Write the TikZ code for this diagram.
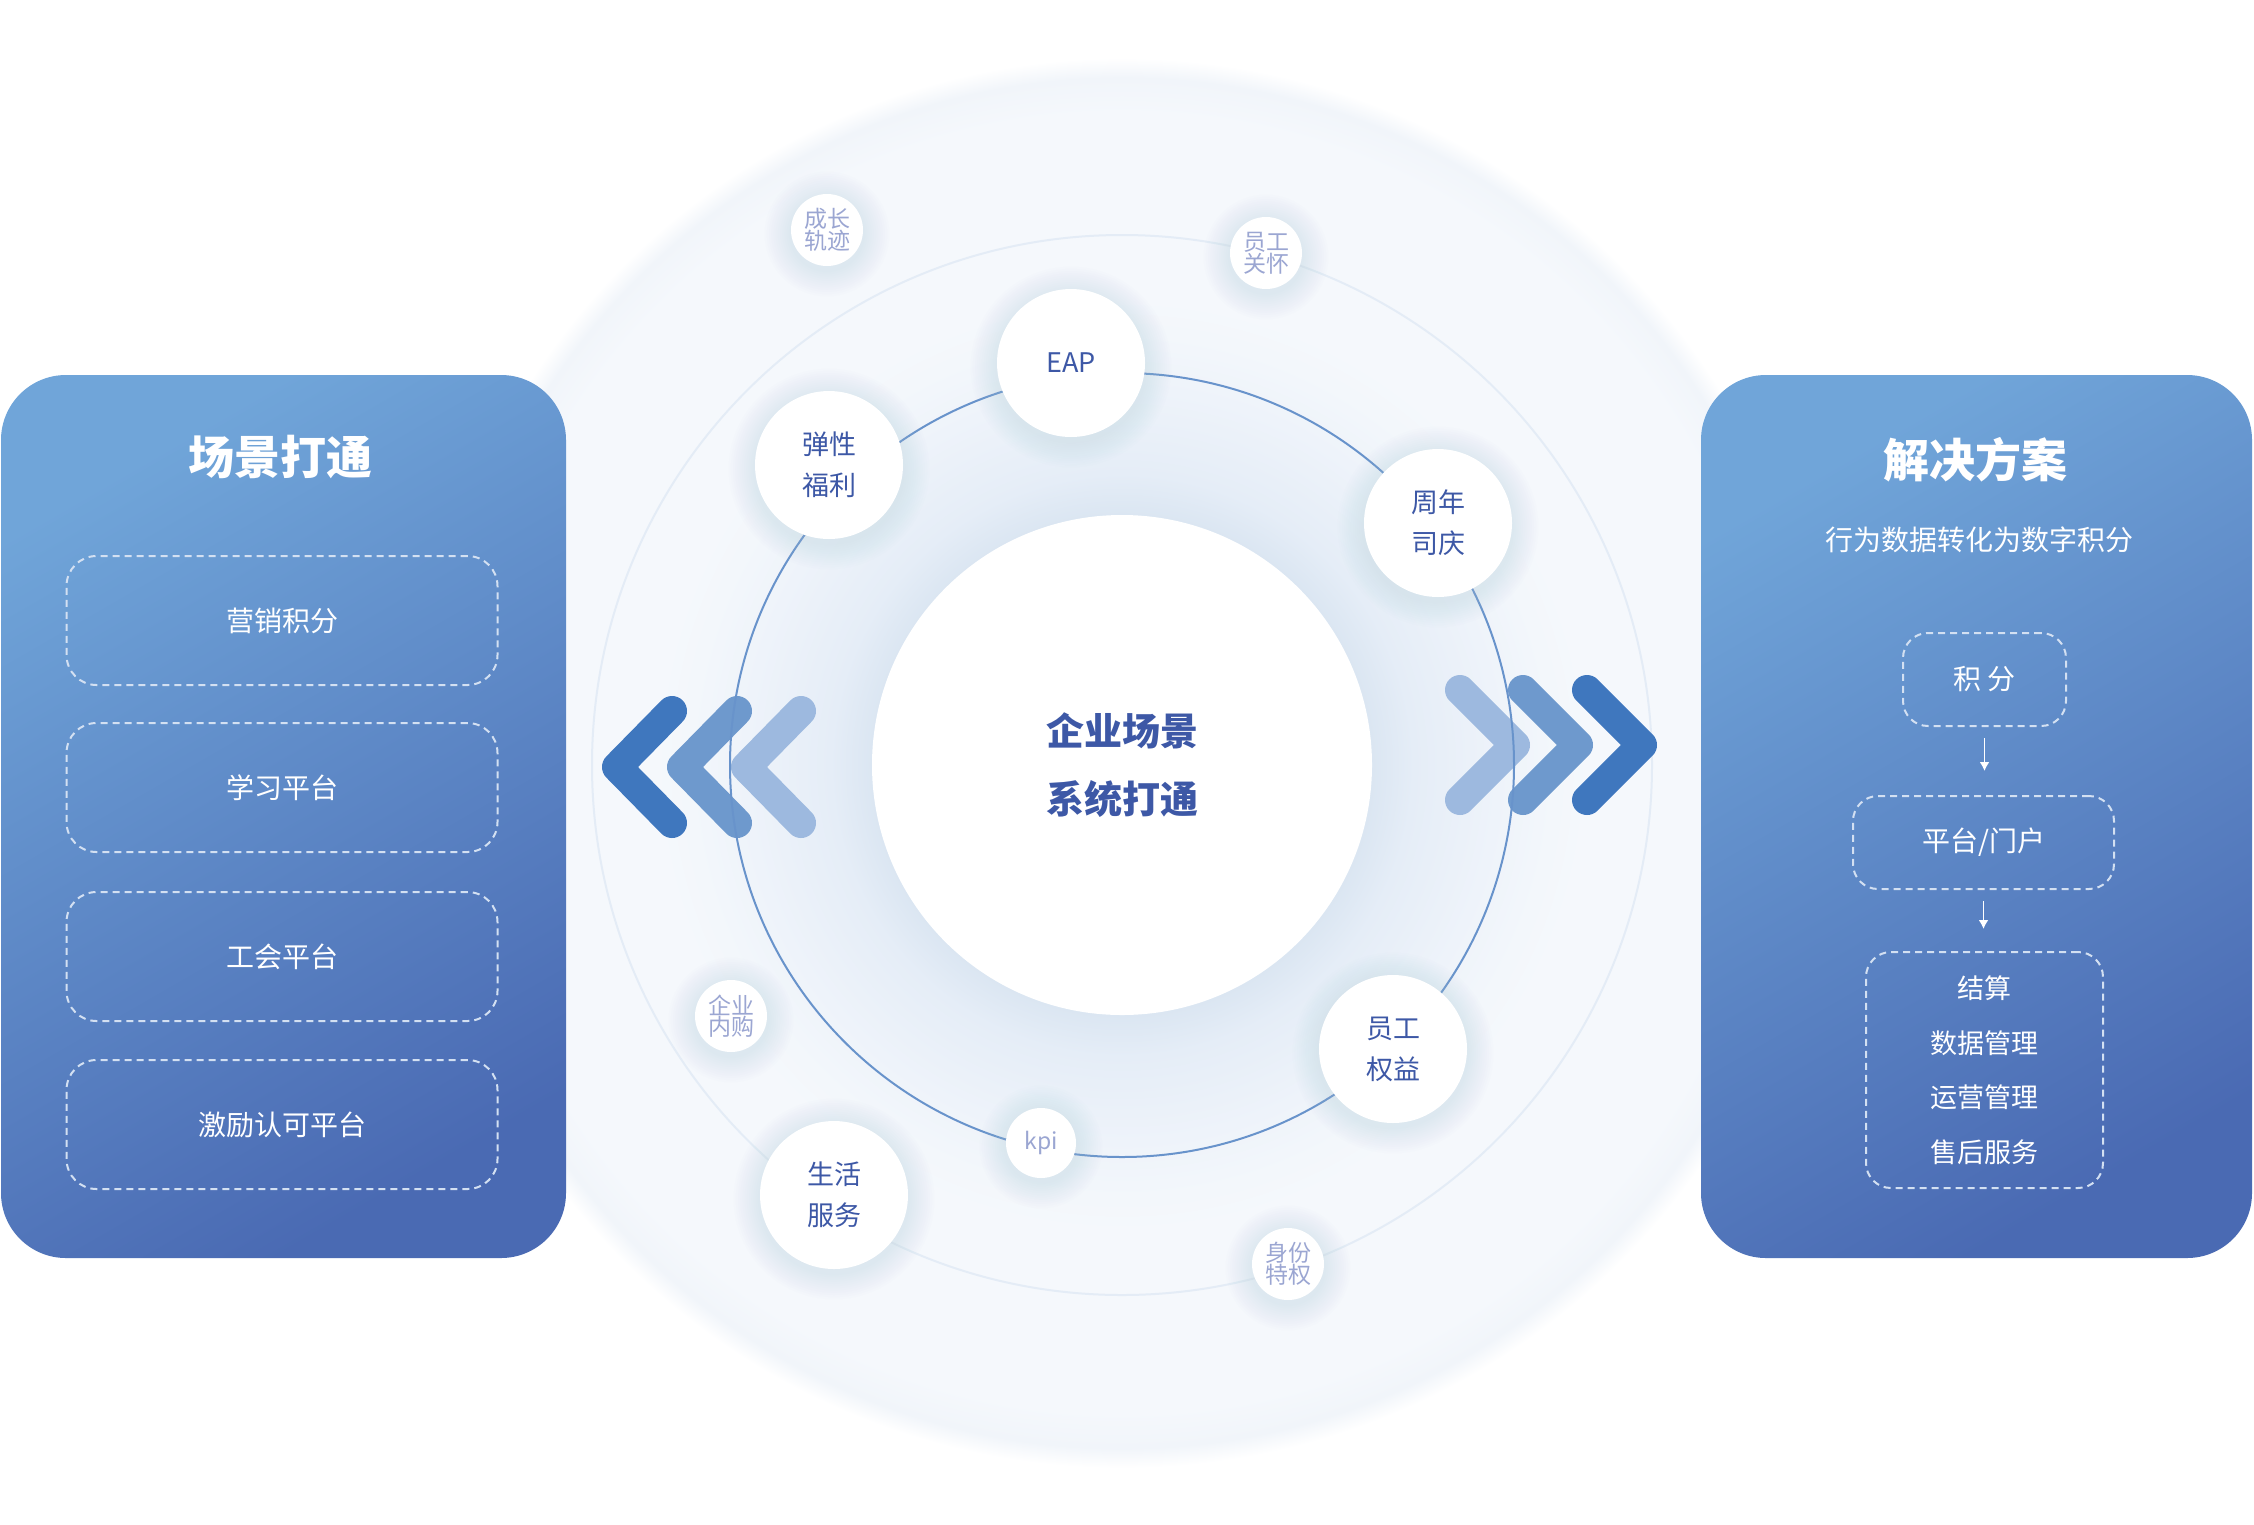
\documentclass[tikz,border=0pt]{standalone}
\usepackage{fontspec}
\setmainfont{Noto Sans CJK SC}
\usetikzlibrary{arrows.meta}
\definecolor{ptop}{HTML}{70A5D9}
\definecolor{pbot}{HTML}{4A6AB3}
\definecolor{ringblue}{HTML}{6893CB}
\definecolor{faintring}{HTML}{E4ECF6}
\definecolor{txtblue}{HTML}{3D58A6}
\definecolor{txtgray}{HTML}{9BA6D2}
\definecolor{chevA}{HTML}{3F77BE}
\definecolor{chevB}{HTML}{6E99CD}
\definecolor{chevC}{HTML}{9DB9DF}
\definecolor{dashc}{HTML}{D3E0F2}
\definecolor{bgA}{HTML}{F5F8FC}
\definecolor{bgE}{HTML}{F1F5FA}
\definecolor{glowA}{HTML}{DBE6F2}
\definecolor{glowB}{HTML}{E5EDF7}
\definecolor{glowC}{HTML}{EEF3FA}
\definecolor{glowD}{HTML}{F3F7FB}
\definecolor{glowc}{HTML}{B3C7E2}
\pgfdeclareradialshading{outerdisc}{\pgfpoint{0bp}{0bp}}{color(0bp)=(bgA); color(23bp)=(bgA); color(24.3bp)=(bgE); color(25bp)=(white); color(50bp)=(white)}
\pgfdeclareradialshading{innerdisc}{\pgfpoint{0bp}{0bp}}{color(0bp)=(glowA); color(13.3bp)=(glowA); color(15.5bp)=(glowB); color(20bp)=(glowC); color(23bp)=(glowD); color(25bp)=(bgA); color(50bp)=(bgA)}
\newcommand\nodeglow[2]{\foreach \k in {1,...,12}{\fill[glowc,opacity=0.025] (#1) ++(0,4) circle ({#2+2.2*\k});}}
\begin{document}
\begin{tikzpicture}[x=1pt,y=-1pt,
  panel/.style={rectangle, rounded corners=65, top color=ptop, bottom color=pbot, shading angle=30, inner sep=0},
  ptitle/.style={text=white, font=\fontsize{46}{50}\selectfont\bfseries},
  psub/.style={text=white, font=\fontsize{28}{32}\selectfont},
  dbox/.style={draw=dashc, line width=2, dash pattern=on 7pt off 5pt, text=white, inner sep=0, font=\fontsize{28}{32}\selectfont},
  lbox/.style={dbox, rectangle, rounded corners=30, minimum width=431, minimum height=129},
  rbox/.style={dbox, rectangle, rounded corners=25},
  parrow/.style={draw=white, line width=1.8, -{Latex[length=9pt,width=10pt]}},
  chev/.style={line width=30, line cap=round, line join=round},
  bignode/.style={circle, fill=white, minimum size=148, inner sep=0, text=txtblue, font=\fontsize{27}{41}\selectfont, align=center},
  smallnode/.style={circle, fill=white, minimum size=72, inner sep=0, text=txtgray, font=\fontsize{23}{21}\selectfont, align=center},
  corenode/.style={circle, fill=white, minimum size=500, inner sep=0, text=txtblue, font=\fontsize{38}{68}\selectfont\bfseries, align=center}
]
\useasboundingbox (0,0) rectangle (2254,1524);
\fill[white] (0,0) rectangle (2254,1524);
% background discs
\shade[shading=outerdisc] (1122,763) circle (705);
\shade[shading=innerdisc] (1122,765) circle (470);
\draw[faintring, line width=2] (1122,765) circle (530);
% core
\node[corenode] (core) at (1122,765) {企业场景\\系统打通};
% chevrons
\coordinate (la1) at (672,711); \coordinate (lt1) at (617,767); \coordinate (lb1) at (672,823);
\coordinate (la2) at (737,711); \coordinate (lt2) at (682,767); \coordinate (lb2) at (737,823);
\coordinate (la3) at (801,711); \coordinate (lt3) at (746,767); \coordinate (lb3) at (801,823);
\draw[chev, chevC] (la3) -- (lt3) -- (lb3);
\draw[chev, chevB] (la2) -- (lt2) -- (lb2);
\draw[chev, chevA] (la1) -- (lt1) -- (lb1);
\coordinate (ra1) at (1460,690); \coordinate (rt1) at (1515,745); \coordinate (rb1) at (1460,800);
\coordinate (ra2) at (1523,690); \coordinate (rt2) at (1578,745); \coordinate (rb2) at (1523,800);
\coordinate (ra3) at (1587,690); \coordinate (rt3) at (1642,745); \coordinate (rb3) at (1587,800);
\draw[chev, chevC] (ra1) -- (rt1) -- (rb1);
\draw[chev, chevB] (ra2) -- (rt2) -- (rb2);
\draw[chev, chevA] (ra3) -- (rt3) -- (rb3);
% blue ring
\draw[ringblue, line width=2] (1122,765) circle (392);
% node positions
\coordinate (pEAP) at (1071,363);
\coordinate (pTX) at (829,465);
\coordinate (pZN) at (1438,523);
\coordinate (pQY) at (1393,1049);
\coordinate (pSH) at (834,1195);
\coordinate (pKPI) at (1041,1143);
\coordinate (pCZ) at (827,230);
\coordinate (pGH) at (1266,253);
\coordinate (pNG) at (731,1016);
\coordinate (pSF) at (1288,1264);
\nodeglow{pEAP}{74}\nodeglow{pTX}{74}\nodeglow{pZN}{74}\nodeglow{pQY}{74}\nodeglow{pSH}{74}
\nodeglow{pKPI}{35}\nodeglow{pCZ}{36}\nodeglow{pGH}{36}\nodeglow{pNG}{36}\nodeglow{pSF}{36}
\node[bignode] (eap) at (pEAP) {EAP};
\node[bignode] (tx) at (pTX) {弹性\\福利};
\node[bignode] (zn) at (pZN) {周年\\司庆};
\node[bignode] (qy) at (pQY) {员工\\权益};
\node[bignode] (sh) at (pSH) {生活\\服务};
\node[smallnode, minimum size=70, font=\fontsize{23}{24}\selectfont] (kpi) at (pKPI) {kpi};
\node[smallnode] (cz) at (pCZ) {成长\\轨迹};
\node[smallnode] (gh) at (pGH) {员工\\关怀};
\node[smallnode] (ng) at (pNG) {企业\\内购};
\node[smallnode] (sf) at (pSF) {身份\\特权};
% left panel
\node[panel, minimum width=565, minimum height=883] (lp) at (283.5,816.5) {};
\node[ptitle] (lt) at (280,457) {场景打通};
\node[lbox] (l1) at (282,620.5) {营销积分};
\node[lbox] (l2) at (282,787.5) {学习平台};
\node[lbox] (l3) at (282,956.5) {工会平台};
\node[lbox] (l4) at (282,1124.5) {激励认可平台};
% right panel
\node[panel, minimum width=551, minimum height=883] (rp) at (1976.5,816.5) {};
\node[ptitle] (rt) at (1975,460) {解决方案};
\node[psub] (rs) at (1979,540) {行为数据转化为数字积分};
\node[rbox, minimum width=163, minimum height=93] (r1) at (1984.5,679.5) {积 分};
\node[rbox, minimum width=261, minimum height=93] (r2) at (1983.5,842.5) {平台/门户};
\node[rbox, minimum width=237, minimum height=236, align=center, font=\fontsize{27}{54.5}\selectfont] (r3) at (1984.5,1070) {结算\\数据管理\\运营管理\\售后服务};
\draw[parrow, shorten <=11pt, shorten >=24pt] (r1.south) -- (r1.south |- r2.north);
\draw[parrow, shorten <=11pt, shorten >=22pt] (r2.south) -- (r2.south |- r3.north);
\end{tikzpicture}
\end{document}
